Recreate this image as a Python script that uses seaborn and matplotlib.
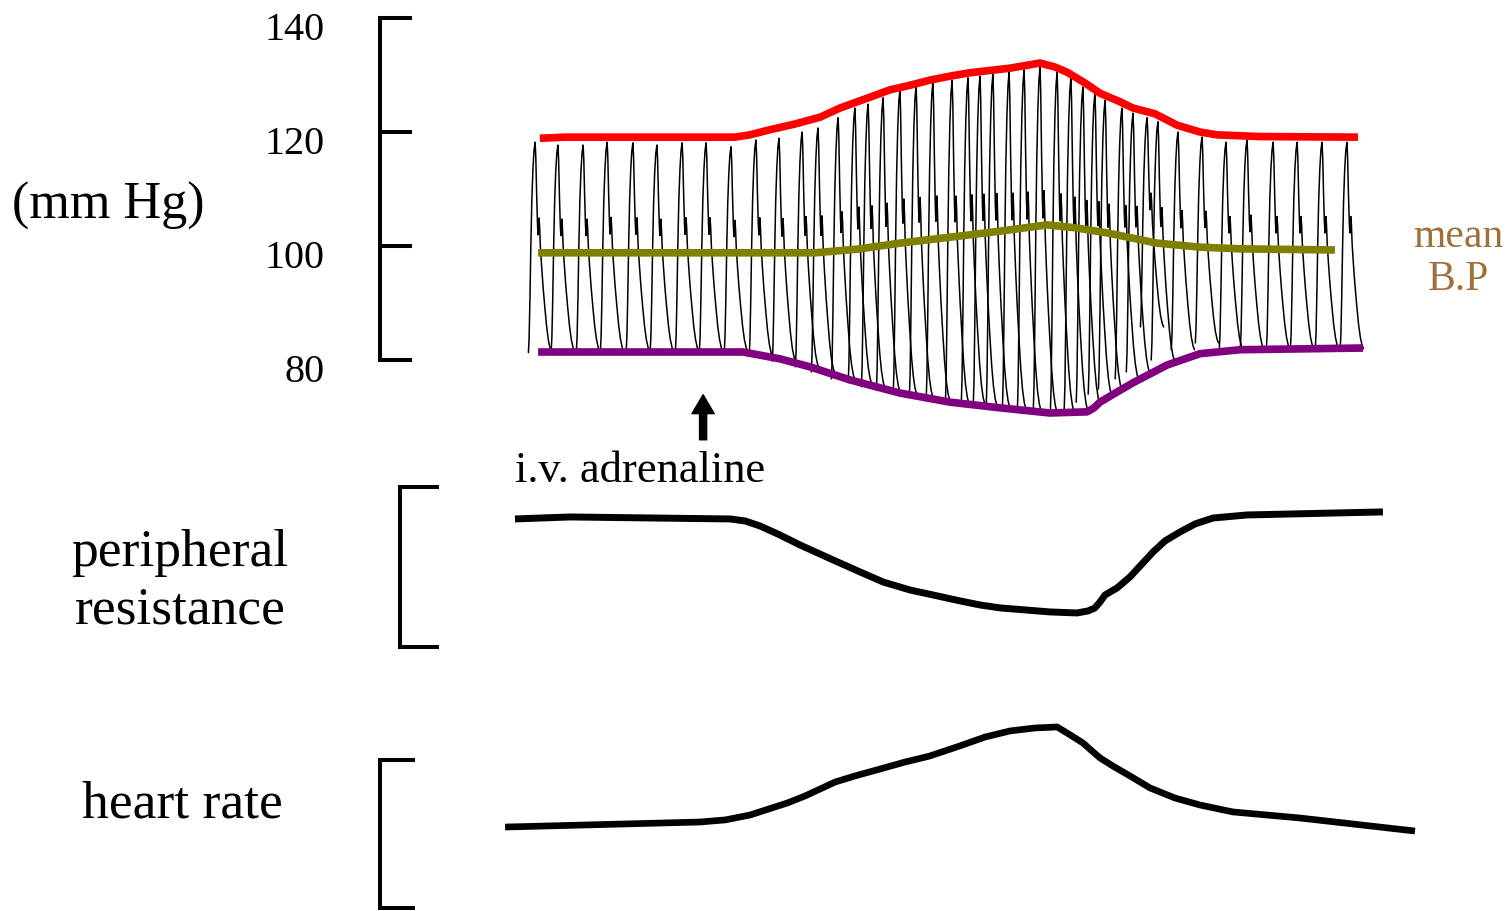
import numpy as np
import pandas as pd
import matplotlib
matplotlib.use("Agg")
import matplotlib.pyplot as plt
import matplotlib.transforms as mtransforms
import seaborn as sns

sns.set_theme(style="white")
plt.rcParams["font.family"] = ["Liberation Serif", "DejaVu Serif"]
plt.rcParams["text.color"] = "black"
plt.rcParams["ytick.color"] = "black"
plt.rcParams["xtick.color"] = "black"

# ---------------------------------------------------------------------------
# Data (time in seconds from the start of the pressure record)
# ---------------------------------------------------------------------------
# systolic envelope (mm Hg)
sys_t = [0.33, 1.17, 6.83, 7.33, 8.0, 8.83, 9.67, 10.33, 11.17, 12.0, 12.67,
         13.33, 14.0, 14.67, 16.0, 17.0, 17.5, 17.9, 18.5, 19.0, 19.67, 20.1,
         20.83, 21.57, 22.33, 22.9, 24.33, 27.6]
sys_p = [118.9, 119.1, 119.1, 119.5, 120.4, 121.4, 122.6, 124.2, 125.8, 127.4,
         128.2, 129.1, 129.8, 130.4, 131.2, 132.1, 131.4, 130.5, 128.6, 126.8,
         125.3, 124.2, 123.2, 121.2, 120.0, 119.5, 119.2, 119.1]

# mean arterial pressure (mm Hg)
mean_t = [0.27, 9.5, 11.0, 12.33, 14.57, 15.67, 17.23, 18.17, 19.23, 20.9,
          22.33, 23.67, 26.83]
mean_p = [98.8, 98.8, 99.5, 100.5, 101.9, 102.6, 103.7, 103.2, 102.3, 100.5,
          99.8, 99.5, 99.3]

# diastolic envelope (mm Hg)
dia_t = [0.27, 7.1, 8.33, 9.33, 10.67, 12.33, 14.0, 15.67, 17.33, 18.57, 18.8,
         19.0, 19.35, 20.1, 21.23, 22.33, 23.67, 27.77]
dia_p = [81.4, 81.4, 80.2, 78.8, 76.5, 74.2, 72.6, 71.6, 70.7, 70.9, 71.6,
         72.6, 73.7, 76.0, 79.1, 81.1, 81.8, 82.1]

# individual pulses: time of systolic peak, peak and floor pressure (mm Hg)
beat_t = [0.17, 0.93, 1.77, 2.57, 3.43, 4.23, 5.07, 5.87, 6.7, 7.53, 8.3,
          9.07, 9.6, 10.27, 10.83, 11.27, 11.77, 12.33, 12.87, 13.43, 14.07,
          14.6, 15.0, 15.43, 15.97, 16.47, 17.0, 17.57, 18.03, 18.43, 18.83,
          19.17, 19.73, 20.1, 20.57, 20.93, 21.6, 22.4, 23.2, 23.9, 24.77,
          25.57, 26.4, 27.23]
beat_peak = [118.2, 117.7, 117.7, 118.2, 118.1, 117.7, 118.1, 118.1, 117.4,
             118.6, 118.9, 120.0, 120.7, 122.5, 124.2, 124.9, 126.0, 127.4,
             128.1, 128.8, 129.1, 129.5, 129.8, 130.2, 130.5, 130.9, 131.4,
             130.5, 129.5, 127.9, 126.8, 125.6, 124.2, 123.3, 122.5, 121.8,
             120.0, 119.1, 118.2, 118.6, 118.2, 118.2, 118.2, 118.2]
beat_floor = [81.3, 81.6, 81.6, 81.6, 81.6, 81.6, 81.6, 81.6, 81.6, 80.7,
              79.8, 78.8, 77.9, 76.7, 76.0, 75.3, 74.7, 74.2, 73.7, 73.2,
              72.6, 72.5, 72.3, 71.9, 71.6, 71.4, 71.2, 71.2, 71.4, 72.6,
              74.0, 74.9, 76.7, 77.9, 85.8, 80.0, 81.8, 83.0, 82.0, 82.0,
              82.0, 82.0, 82.0, 82.0]

# peripheral resistance (relative units)
res_t = [-0.5, 1.33, 6.67, 7.17, 7.67, 8.33, 9.0, 10.1, 11.0, 11.77, 12.67,
         13.43, 14.33, 15.0, 15.67, 17.33, 18.23, 18.6, 18.83, 19.0, 19.17,
         19.57, 20.0, 20.77, 21.17, 21.67, 22.17, 22.77, 23.9, 28.43]
res_v = [0.800, 0.8125, 0.800, 0.7875, 0.756, 0.700, 0.6375, 0.544, 0.469,
         0.406, 0.356, 0.325, 0.288, 0.2625, 0.244, 0.219, 0.2125, 0.225,
         0.244, 0.281, 0.325, 0.369, 0.438, 0.594, 0.663, 0.719, 0.769, 0.806,
         0.825, 0.844]

# heart rate (relative units)
hr_t = [-0.83, 5.67, 6.5, 7.33, 8.57, 9.17, 9.67, 10.17, 10.83, 11.67, 12.5,
        13.33, 14.33, 15.17, 16.0, 16.83, 17.57, 18.0, 18.43, 18.77, 19.0,
        19.43, 20.0, 20.67, 21.5, 22.33, 23.43, 25.67, 29.5]
hr_v = [0.547, 0.581, 0.595, 0.628, 0.709, 0.757, 0.804, 0.851, 0.892, 0.939,
        0.986, 1.027, 1.095, 1.155, 1.196, 1.216, 1.223, 1.170, 1.115, 1.054,
        1.014, 0.959, 0.892, 0.811, 0.743, 0.696, 0.649, 0.608, 0.520]

bp_ticks = [80, 100, 120, 140]
t_injection = 5.77

# shape of one arterial pulse: offset from the peak (s), fraction of pulse height
pulse_dt = [-0.223, -0.2, -0.173, -0.143, -0.11, -0.073, -0.037, 0.0, 0.023,
            0.05, 0.08, 0.1, 0.117, 0.13, 0.15, 0.177, 0.217, 0.267, 0.327,
            0.387, 0.447, 0.507, 0.55]
pulse_frac = [0.0, 0.07, 0.25, 0.5, 0.72, 0.87, 0.96, 1.0, 0.93, 0.76, 0.61,
              0.56, 0.6, 0.64, 0.6, 0.5, 0.41, 0.31, 0.21, 0.12, 0.055,
              0.015, 0.0]

rows = []
for i, (tp, pk, fl) in enumerate(zip(beat_t, beat_peak, beat_floor)):
    for dt, fr in zip(pulse_dt, pulse_frac):
        rows.append((i, tp + dt, fl + fr * (pk - fl)))
pulses = pd.DataFrame(rows, columns=["beat", "t", "p"])

# ---------------------------------------------------------------------------
# Layout
# ---------------------------------------------------------------------------
W, H = 1508, 911
fig = plt.figure(figsize=(W / 100, H / 100), dpi=100)
XLIM = (-17.667, 32.6)

ax_bp = fig.add_axes([0, 1 - 440 / H, 1, 440 / H])
ax_res = fig.add_axes([0, 1 - 670 / H, 1, 200 / H])
ax_hr = fig.add_axes([0, 0, 1, 211 / H])

ax_bp.set_ylim(65.96, 143.16)
ax_res.set_ylim(-0.144, 1.106)
ax_hr.set_ylim(-0.020, 1.405)

SPINE_W = 2.9
for ax, xpos, bounds, tlen in [(ax_bp, -5.0, (80, 140), 23),
                               (ax_res, -4.33, (0, 1), 28),
                               (ax_hr, -5.0, (0, 1), 25)]:
    ax.set_xlim(*XLIM)
    ax.set_facecolor("none")
    ax.set_xticks([])
    for side in ("top", "right", "bottom"):
        ax.spines[side].set_visible(False)
    sp = ax.spines["left"]
    sp.set_position(("data", xpos))
    sp.set_bounds(*bounds)
    sp.set_linewidth(SPINE_W)
    sp.set_color("black")
    sp.set_capstyle("projecting")
    ax.tick_params(axis="y", direction="in", length=tlen, width=SPINE_W,
                   colors="black", left=True)

ax_bp.set_yticks(bp_ticks)
ax_bp.set_yticklabels([str(v) for v in bp_ticks])
ax_bp.tick_params(axis="y", pad=40, labelsize=29)
# the scale numbers sit slightly below their tick marks
shift = mtransforms.ScaledTranslation(0, -8 / 100, fig.dpi_scale_trans)
for lbl in ax_bp.get_yticklabels():
    lbl.set_transform(lbl.get_transform() + shift)
ax_res.set_yticks([0, 1])
ax_res.set_yticklabels([])
ax_hr.set_yticks([0, 1])
ax_hr.set_yticklabels([])

thick = dict(sort=False, solid_capstyle="butt", solid_joinstyle="round")

# ---------------------------------------------------------------------------
# Blood pressure record
# ---------------------------------------------------------------------------
sns.lineplot(data=pulses, x="t", y="p", units="beat", estimator=None,
             sort=False, color="black", lw=1.1, ax=ax_bp, zorder=1)
sns.lineplot(x=dia_t, y=dia_p, color="#800080", lw=5.5, ax=ax_bp, zorder=3,
             **thick)
sns.lineplot(x=mean_t, y=mean_p, color="#808000", lw=5.5, ax=ax_bp, zorder=3,
             **thick)
sns.lineplot(x=sys_t, y=sys_p, color="#FF0000", lw=5.5, ax=ax_bp, zorder=3,
             **thick)
ax_bp.set_xlabel("")
ax_bp.set_ylabel("")

ax_bp.annotate("", xy=(t_injection, 73.9), xytext=(t_injection, 66.0),
               xycoords="data", textcoords="data", annotation_clip=False,
               arrowprops=dict(arrowstyle="simple,head_width=1.0,head_length=0.85,tail_width=0.32",
                               mutation_scale=16, fc="black", ec="black",
                               shrinkA=0, shrinkB=0))

# ---------------------------------------------------------------------------
# Peripheral resistance and heart rate
# ---------------------------------------------------------------------------
sns.lineplot(x=res_t, y=res_v, color="black", lw=5.0, ax=ax_res, **thick)
sns.lineplot(x=hr_t, y=hr_v, color="black", lw=4.8, ax=ax_hr, **thick)
for ax in (ax_res, ax_hr):
    ax.set_xlabel("")
    ax.set_ylabel("")

# ---------------------------------------------------------------------------
# Labels
# ---------------------------------------------------------------------------
fig.text(108 / W, 1 - 206 / H, "(mm Hg)", ha="center", va="center",
         fontsize=37.5)
fig.text(1458 / W, 1 - 258 / H, "mean\nB.P", ha="center", va="center",
         fontsize=30, color="#A0703C", linespacing=1.15)
fig.text(640 / W, 1 - 471 / H, "i.v. adrenaline", ha="center", va="center",
         fontsize=32)
fig.text(180 / W, 1 - 582 / H, "peripheral\nresistance", ha="center",
         va="center", fontsize=38.5, linespacing=1.25)
fig.text(182 / W, 1 - 805 / H, "heart rate", ha="center", va="center",
         fontsize=38.5)

fig.savefig("out.png", dpi=100, facecolor="white")
